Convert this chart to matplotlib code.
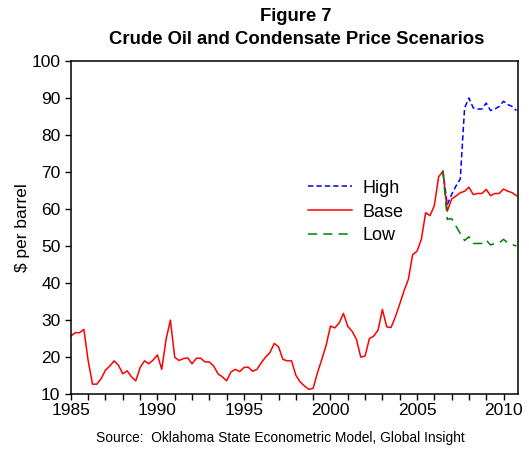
import numpy as np
import matplotlib
matplotlib.use("Agg")
import matplotlib.pyplot as plt

plt.rcParams['font.family'] = ['Liberation Sans', 'DejaVu Sans']

# quarterly history, 1985Q1 .. 2006Q3
history = [
    25.7, 26.6, 26.6, 27.5,   # 1985
    19.0, 12.7, 12.7, 14.2,   # 1986
    16.5, 17.6, 19.0, 17.8,   # 1987
    15.5, 16.3, 14.7, 13.6,   # 1988
    17.2, 19.0, 18.2, 19.2,   # 1989
    20.6, 16.7, 24.8, 30.0,   # 1990
    20.0, 19.1, 19.6, 19.8,   # 1991
    18.2, 19.7, 19.7, 18.7,   # 1992
    18.7, 17.6, 15.5, 14.7,   # 1993
    13.6, 16.0, 16.7, 16.1,   # 1994
    17.2, 17.3, 16.2, 16.7,   # 1995
    18.5, 20.0, 21.2, 23.7,   # 1996
    22.8, 19.4, 19.0, 19.0,   # 1997
    15.1, 13.3, 12.2, 11.3,   # 1998
    11.6, 15.8, 19.4, 23.2,   # 1999
    28.4, 27.9, 29.2, 31.8,   # 2000
    28.3, 27.0, 24.8, 20.0,   # 2001
    20.3, 25.0, 25.7, 27.3,   # 2002
    32.9, 28.2, 28.0, 30.9,   # 2003
    34.3, 37.9, 41.0, 47.7,   # 2004
    48.6, 51.8, 59.0, 58.2,   # 2005
    60.9, 68.7, 70.2,         # 2006
]

# scenarios, 2006Q4 .. 2010Q4
high = [61.2, 63.9, 66.2, 68.1, 87.3, 90.0, 87.3, 87.0, 87.0,
        88.6, 86.6, 87.0, 87.7, 89.1, 88.2, 87.7, 86.6]
base = [59.4, 62.7, 63.5, 64.4, 64.8, 65.9, 63.9, 64.2, 64.2,
        65.3, 63.6, 64.2, 64.2, 65.4, 64.8, 64.4, 63.6]
low = [57.2, 57.4, 55.4, 53.4, 51.5, 52.5, 50.7, 50.7, 50.7,
       51.6, 50.3, 50.7, 50.9, 51.8, 50.9, 50.4, 50.0]

start_year = 1985
n_hist = len(history)
t_hist = start_year + np.arange(n_hist) / 4
t_scen = start_year + np.arange(n_hist - 1, n_hist + len(base)) / 4
last = history[-1]

fig = plt.figure(figsize=(5.29, 4.51), dpi=100)
ax = fig.add_axes([0.134, 0.126, 0.845, 0.739])

ax.plot(t_scen, [last] + high, color='#0000FF', lw=1.1, dashes=(3.5, 2), label='High')
ax.plot(t_hist, history, color='#FF0000', lw=1.1)
ax.plot(t_scen, [last] + base, color='#FF0000', lw=1.1, label='Base')
ax.plot(t_scen, [last] + low, color='#008000', lw=1.1, dashes=(6, 4), label='Low')

ax.set_xlim(1985, 2010.83)
ax.set_ylim(10, 100)
ax.set_xticks([1985, 1990, 1995, 2000, 2005, 2010])
ax.set_xticks(np.arange(1985, 2011), minor=True)
ax.set_yticks(np.arange(10, 101, 10))
ax.tick_params(axis='both', which='both', direction='out', length=4, width=1,
               labelsize=12.5, top=False, right=False)
ax.tick_params(axis='x', pad=2)
for s in ax.spines.values():
    s.set_linewidth(1.1)

ax.set_ylabel('\\$ per barrel', fontsize=12.5, labelpad=1)

leg = ax.legend(loc='upper left', bbox_to_anchor=(0.515, 0.665), frameon=False,
                fontsize=13, handlelength=2.4, handletextpad=0.6,
                labelspacing=0.38, borderaxespad=0)

fig.text(0.56, 0.983, 'Figure 7\nCrude Oil and Condensate Price Scenarios',
         ha='center', va='top', fontsize=13.3, fontweight='bold', linespacing=1.45)
fig.text(0.53, 0.028, 'Source:  Oklahoma State Econometric Model, Global Insight',
         ha='center', va='center', fontsize=9.9)

fig.savefig('out.png', dpi=100)
